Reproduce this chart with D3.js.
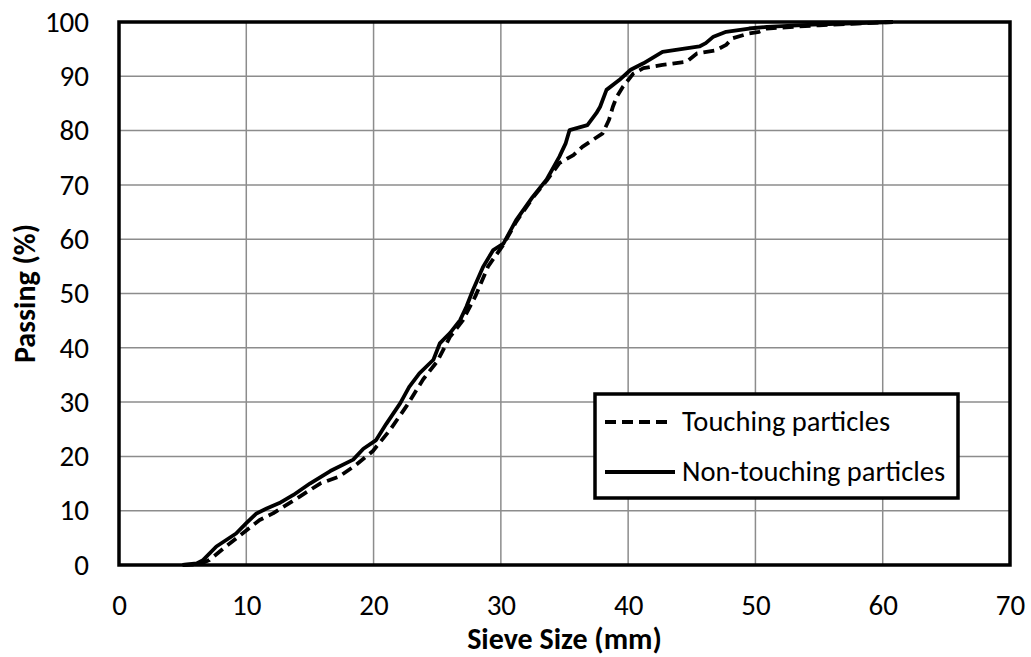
<!DOCTYPE html>
<html>
<head>
<meta charset="utf-8">
<script src="https://cdn.jsdelivr.net/npm/d3@7"></script>
<style>
  body { margin: 0; background: #fff; }
  text { font-family: Carlito, Calibri, Lato, "Open Sans", sans-serif; fill: #000; }
</style>
</head>
<body>
<div id="chart"></div>
<script>
// sieve curves: size (mm) vs. cumulative passing (%)
const touchingSize = [5, 6.3, 7.1, 8.4, 9.7, 11.05, 12.1, 14.2, 15.8, 17.3, 18.6, 19.95, 21.3, 22.6, 23.9, 25, 26, 27, 28, 29, 30.2, 31.2, 32.5, 33.6, 34.6, 35.7, 36.4, 38.0, 38.5, 38.8, 39.1, 39.6, 40.4, 41.2, 42.7, 44.6, 45.4, 46.9, 47.7, 48.2, 49.5, 50.3, 50.9, 55, 60.8];
const touchingPassing = [0, 0.1, 0.9, 3.4, 5.8, 8.3, 9.5, 12.6, 15, 16.3, 18.4, 21, 24.9, 29.3, 34.2, 37.5, 42, 45, 49.5, 55, 59, 63.2, 67.6, 70.8, 74, 75.5, 77, 79.5, 82, 84.4, 86.2, 88.1, 90.5, 91.5, 92.1, 92.7, 94.2, 94.8, 95.8, 97, 97.9, 98.2, 98.8, 99.4, 100];

const nonTouchingSize = [5, 6.1, 6.6, 7.65, 9.2, 10, 10.8, 11.6, 12.6, 13.7, 15, 16.6, 18.4, 19.2, 20.2, 21, 22.1, 22.8, 23.6, 24.7, 25.2, 26, 26.8, 27.3, 27.8, 28.6, 29.4, 30.2, 31.2, 32.5, 33.6, 34.6, 35.1, 35.4, 36.8, 37.5, 37.8, 38.3, 39.3, 40.2, 41.2, 42.7, 45.6, 46.1, 46.7, 47.7, 49.5, 50.9, 54.5, 60.8];
const nonTouchingPassing = [0, 0.3, 0.9, 3.4, 5.8, 7.7, 9.5, 10.4, 11.4, 12.9, 15, 17.3, 19.4, 21.4, 23, 26, 29.8, 32.8, 35.3, 37.8, 40.8, 42.7, 45.1, 47.6, 50.6, 54.9, 58, 59.2, 63.5, 67.8, 71, 75.2, 77.7, 80.1, 81, 83.2, 84.4, 87.5, 89.3, 91.2, 92.4, 94.5, 95.5, 96.1, 97.3, 98.2, 98.8, 99.1, 99.5, 100];

const xTicks = [0, 10, 20, 30, 40, 50, 60, 70];
const yTicks = [0, 10, 20, 30, 40, 50, 60, 70, 80, 90, 100];
const seriesNames = ["Touching particles", "Non-touching particles"];

const width = 1031, height = 657;
const margin = { top: 22, right: 21, bottom: 92, left: 119 };
const innerW = width - margin.left - margin.right;
const innerH = height - margin.top - margin.bottom;

const svg = d3.select("#chart").append("svg")
  .attr("width", width)
  .attr("height", height);

const g = svg.append("g")
  .attr("transform", `translate(${margin.left},${margin.top})`);

const x = d3.scaleLinear().domain([0, 70]).range([0, innerW]);
const y = d3.scaleLinear().domain([0, 100]).range([innerH, 0]);

// grid
g.append("g")
  .selectAll("line")
  .data(xTicks.slice(1, -1))
  .join("line")
  .attr("x1", d => x(d)).attr("x2", d => x(d))
  .attr("y1", 0).attr("y2", innerH)
  .attr("stroke", "#8c8c8c").attr("stroke-width", 1.5);

g.append("g")
  .selectAll("line")
  .data(yTicks.slice(1, -1))
  .join("line")
  .attr("y1", d => y(d)).attr("y2", d => y(d))
  .attr("x1", 0).attr("x2", innerW)
  .attr("stroke", "#8c8c8c").attr("stroke-width", 1.5);

// axes (labels only, frame drawn separately)
const xAxis = g.append("g")
  .attr("transform", `translate(0,${innerH})`)
  .call(d3.axisBottom(x).tickValues(xTicks).tickSize(0).tickPadding(29));
const yAxis = g.append("g")
  .call(d3.axisLeft(y).tickValues(yTicks).tickSize(0).tickPadding(30));
[xAxis, yAxis].forEach(a => {
  a.select(".domain").remove();
  a.selectAll("text").style("font-size", "29px").attr("font-family", null);
});

const line = d3.line()
  .x(d => x(d[0]))
  .y(d => y(d[1]));

const touching = d3.zip(touchingSize, touchingPassing);
const nonTouching = d3.zip(nonTouchingSize, nonTouchingPassing);

g.append("path")
  .datum(touching)
  .attr("d", line)
  .attr("fill", "none")
  .attr("stroke", "#000")
  .attr("stroke-width", 3.8)
  .attr("stroke-dasharray", "11,6")
  .attr("stroke-linejoin", "round");

g.append("path")
  .datum(nonTouching)
  .attr("d", line)
  .attr("fill", "none")
  .attr("stroke", "#000")
  .attr("stroke-width", 3.8)
  .attr("stroke-linejoin", "round");

// plot frame
g.append("rect")
  .attr("width", innerW).attr("height", innerH)
  .attr("fill", "none")
  .attr("stroke", "#000")
  .attr("stroke-width", 3.5);

// axis titles
svg.append("text")
  .attr("x", margin.left + innerW / 2)
  .attr("y", 649)
  .attr("text-anchor", "middle")
  .style("font-size", "30px")
  .style("font-weight", "bold")
  .text("Sieve Size (mm)");

svg.append("text")
  .attr("transform", `translate(35,${margin.top + innerH / 2}) rotate(-90)`)
  .attr("text-anchor", "middle")
  .style("font-size", "30px")
  .style("font-weight", "bold")
  .text("Passing (%)");

// legend
const legend = svg.append("g").attr("transform", "translate(595,394)");
legend.append("rect")
  .attr("width", 363).attr("height", 104)
  .attr("fill", "#fff")
  .attr("stroke", "#000")
  .attr("stroke-width", 3.5);

const legendRows = legend.selectAll("g.row")
  .data(seriesNames)
  .join("g")
  .attr("class", "row")
  .attr("transform", (d, i) => `translate(0,${28 + i * 50})`);

legendRows.append("line")
  .attr("x1", 10).attr("x2", (d, i) => i === 0 ? 75 : 80)
  .attr("stroke", "#000")
  .attr("stroke-width", 3.8)
  .attr("stroke-dasharray", (d, i) => i === 0 ? "11,6" : null);

legendRows.append("text")
  .attr("x", 87)
  .attr("dy", "0.33em")
  .style("font-size", "28.5px")
  .text(d => d);
</script>
</body>
</html>
